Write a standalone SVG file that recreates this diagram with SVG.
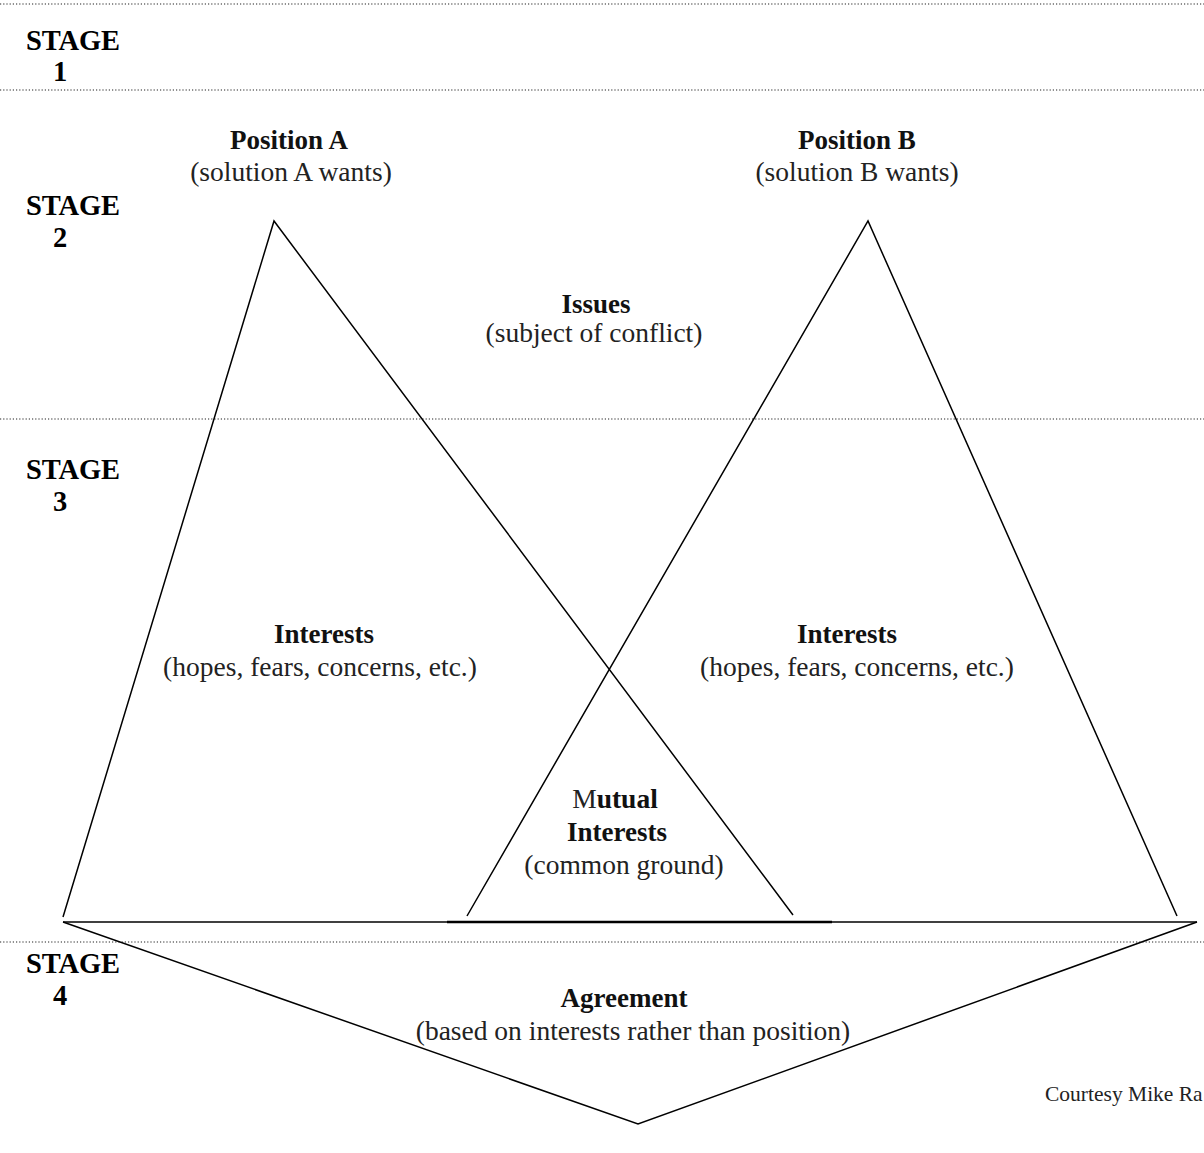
<svg xmlns="http://www.w3.org/2000/svg" width="1204" height="1153" viewBox="0 0 1204 1153">
<style>
.dot{stroke:#222;stroke-width:1.2;stroke-dasharray:1.2 2;fill:none}
.ln{stroke:#000;stroke-width:1.5;fill:none}
.stage{font-family:"Liberation Serif",serif;font-weight:bold;font-size:28.5px;fill:#000}
.b{font-family:"Liberation Serif",serif;font-weight:bold;font-size:27px;fill:#111;text-anchor:middle}
.r{font-family:"Liberation Serif",serif;font-size:27.5px;fill:#222;text-anchor:middle}
.sm{font-family:"Liberation Serif",serif;font-size:21.5px;fill:#222}
</style>
<rect width="1204" height="1153" fill="#fff"/>
<g id="stages">
<line class="dot" x1="0" y1="4" x2="1204" y2="4"/>
<line class="dot" x1="0" y1="90" x2="1204" y2="90"/>
<line class="dot" x1="0" y1="419" x2="1204" y2="419"/>
<line class="dot" x1="0" y1="942" x2="1204" y2="942"/>
<text class="stage" x="26" y="50" textLength="94">STAGE</text>
<text class="stage" x="60" y="81" text-anchor="middle">1</text>
<text class="stage" x="26" y="215" textLength="94">STAGE</text>
<text class="stage" x="60" y="247" text-anchor="middle">2</text>
<text class="stage" x="26" y="479" textLength="94">STAGE</text>
<text class="stage" x="60" y="511" text-anchor="middle">3</text>
<text class="stage" x="26" y="973" textLength="94">STAGE</text>
<text class="stage" x="60" y="1005" text-anchor="middle">4</text>
</g>
<g id="connectors">
<polyline class="ln" points="63,917 274,221 793,915"/>
<polyline class="ln" points="467,916 868,221 1177,916"/>
<line class="ln" x1="63" y1="922" x2="1197" y2="922"/>
<line stroke="#000" stroke-width="2.6" x1="447" y1="922" x2="832" y2="922"/>
<polyline class="ln" points="63,922 638,1124 1197,922"/>
</g>
<g id="positionA">
<text class="b" x="289" y="149">Position A</text>
<text class="r" x="291" y="181">(solution A wants)</text>
</g>
<g id="positionB">
<text class="b" x="857" y="149">Position B</text>
<text class="r" x="857" y="181">(solution B wants)</text>
</g>
<g id="issues">
<text class="b" x="596" y="313">Issues</text>
<text class="r" x="594" y="342">(subject of conflict)</text>
</g>
<g id="interestsA">
<text class="b" x="324" y="643">Interests</text>
<text class="r" x="320" y="676">(hopes, fears, concerns, etc.)</text>
</g>
<g id="interestsB">
<text class="b" x="847" y="643">Interests</text>
<text class="r" x="857" y="676">(hopes, fears, concerns, etc.)</text>
</g>
<g id="mutual">
<text class="r" x="615" y="808">M<tspan font-weight="bold" fill="#111">utual</tspan></text>
<text class="b" x="617" y="841">Interests</text>
<text class="r" x="624" y="874">(common ground)</text>
</g>
<g id="agreement">
<text class="b" x="624" y="1007">Agreement</text>
<text class="r" x="633" y="1040">(based on interests rather than position)</text>
</g>
<text class="sm" x="1045" y="1101">Courtesy Mike Ra</text>
</svg>
